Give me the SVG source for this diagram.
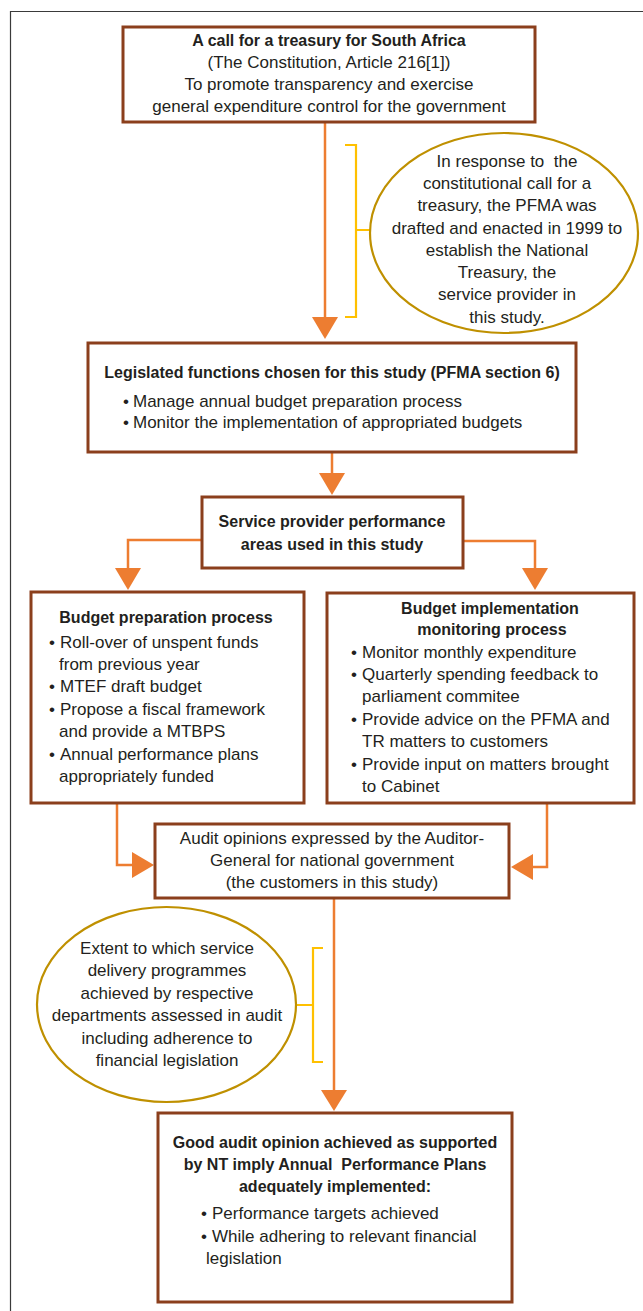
<svg xmlns="http://www.w3.org/2000/svg" width="643" height="1311" viewBox="0 0 643 1311">
<style>
.box{fill:#fff;stroke:#8B3F1C;stroke-width:3}
.ell{fill:#fff;stroke:#BF9000;stroke-width:2.2}
.ln{fill:none;stroke:#ED7D31;stroke-width:2.5}
.hd{fill:#ED7D31;stroke:none}
.br{fill:none;stroke:#FFC000;stroke-width:2.2}
text{font-family:"Liberation Sans",Arial,sans-serif;font-size:17px;fill:#231f20}
.b{font-weight:bold;font-size:16px}
.c{text-anchor:middle}
</style>
<rect width="643" height="1311" fill="#fff"/>
<path d="M10.5,1311 V11.5 H643" fill="none" stroke="#3a3a3a" stroke-width="1.2"/>

<g id="connectors">
<path class="ln" d="M325,122 V318"/>
<polygon class="hd" points="312,317 338,317 325,339"/>
<path class="br" d="M345,145 H356 V317 H345 M356,230 H371"/>
<path class="ln" d="M332,452 V474"/>
<polygon class="hd" points="319,473 345,473 332,495"/>
<path class="ln" d="M202,540 H128 V569"/>
<polygon class="hd" points="115,568 141,568 128,590"/>
<path class="ln" d="M463,541 H535 V569"/>
<polygon class="hd" points="522,568 548,568 535,590"/>
<path class="ln" d="M117,803 V865 H133"/>
<polygon class="hd" points="132,852 132,878 154,865"/>
<path class="ln" d="M547,803 V867 H532"/>
<polygon class="hd" points="533,854 533,880 511,867"/>
<path class="ln" d="M334,898 V1091"/>
<polygon class="hd" points="321,1090 347,1090 334,1111"/>
<path class="br" d="M323,948 H313 V1062 H323 M296,1005 H313"/>
</g>

<g id="n-call">
<rect class="box" x="123" y="27" width="412" height="95"/>
<text class="c b" x="329" y="46">A call for a treasury for South Africa</text>
<text class="c" x="329" y="68">(The Constitution, Article 216[1])</text>
<text class="c" x="329" y="90">To promote transparency and exercise</text>
<text class="c" x="329" y="112">general expenditure control for the government</text>
</g>

<g id="n-pfma">
<ellipse class="ell" cx="504" cy="233" rx="134" ry="100"/>
<text class="c" x="507" y="167" xml:space="preserve">In response to  the</text>
<text class="c" x="507" y="189">constitutional call for a</text>
<text class="c" x="507" y="211">treasury, the PFMA was</text>
<text class="c" x="507" y="234">drafted and enacted in 1999 to</text>
<text class="c" x="507" y="256">establish the National</text>
<text class="c" x="507" y="278">Treasury, the</text>
<text class="c" x="507" y="300">service provider in</text>
<text class="c" x="507" y="323">this study.</text>
</g>

<g id="n-legislated">
<rect class="box" x="88" y="343" width="488" height="109"/>
<text class="c b" x="332" y="378">Legislated functions chosen for this study (PFMA section 6)</text>
<text x="123" y="407">•</text><text x="133" y="407">Manage annual budget preparation process</text>
<text x="123" y="428">•</text><text x="133" y="428">Monitor the implementation of appropriated budgets</text>
</g>

<g id="n-areas">
<rect class="box" x="202" y="497" width="261" height="71"/>
<text class="c b" x="332" y="527">Service provider performance</text>
<text class="c b" x="332" y="550">areas used in this study</text>
</g>

<g id="n-prep">
<rect class="box" x="31" y="592" width="273" height="211"/>
<text class="c b" x="166" y="623">Budget preparation process</text>
<text x="49" y="648">•</text><text x="60" y="648">Roll-over of unspent funds</text>
<text x="59" y="670">from previous year</text>
<text x="49" y="692">•</text><text x="60" y="692">MTEF draft budget</text>
<text x="49" y="715">•</text><text x="60" y="715">Propose a fiscal framework</text>
<text x="59" y="737">and provide a MTBPS</text>
<text x="49" y="760">•</text><text x="60" y="760">Annual performance plans</text>
<text x="59" y="782">appropriately funded</text>
</g>

<g id="n-impl">
<rect class="box" x="327" y="593" width="307" height="210"/>
<text class="c b" x="490" y="614">Budget implementation</text>
<text class="c b" x="492" y="635">monitoring process</text>
<text x="351" y="658">•</text><text x="362" y="658">Monitor monthly expenditure</text>
<text x="351" y="680">•</text><text x="362" y="680">Quarterly spending feedback to</text>
<text x="362" y="702">parliament commitee</text>
<text x="351" y="725">•</text><text x="362" y="725">Provide advice on the PFMA and</text>
<text x="362" y="747">TR matters to customers</text>
<text x="351" y="770">•</text><text x="362" y="770">Provide input on matters brought</text>
<text x="362" y="792">to Cabinet</text>
</g>

<g id="n-audit">
<rect class="box" x="155" y="824" width="354" height="74"/>
<text class="c" x="332" y="844">Audit opinions expressed by the Auditor-</text>
<text class="c" x="332" y="866">General for national government</text>
<text class="c" x="332" y="888">(the customers in this study)</text>
</g>

<g id="n-extent">
<ellipse class="ell" cx="166.5" cy="1004.5" rx="129.5" ry="97.5"/>
<text class="c" x="167" y="954">Extent to which service</text>
<text class="c" x="167" y="976">delivery programmes</text>
<text class="c" x="167" y="999">achieved by respective</text>
<text class="c" x="167" y="1021">departments assessed in audit</text>
<text class="c" x="167" y="1044">including adherence to</text>
<text class="c" x="167" y="1066">financial legislation</text>
</g>

<g id="n-good">
<rect class="box" x="158" y="1113" width="354" height="189"/>
<text class="c b" x="335" y="1148">Good audit opinion achieved as supported</text>
<text class="c b" x="335" y="1170" xml:space="preserve">by NT imply Annual  Performance Plans</text>
<text class="c b" x="335" y="1192">adequately implemented:</text>
<text x="201" y="1219">•</text><text x="212" y="1219">Performance targets achieved</text>
<text x="201" y="1242">•</text><text x="212" y="1242">While adhering to relevant financial</text>
<text x="206" y="1264">legislation</text>
</g>
</svg>
